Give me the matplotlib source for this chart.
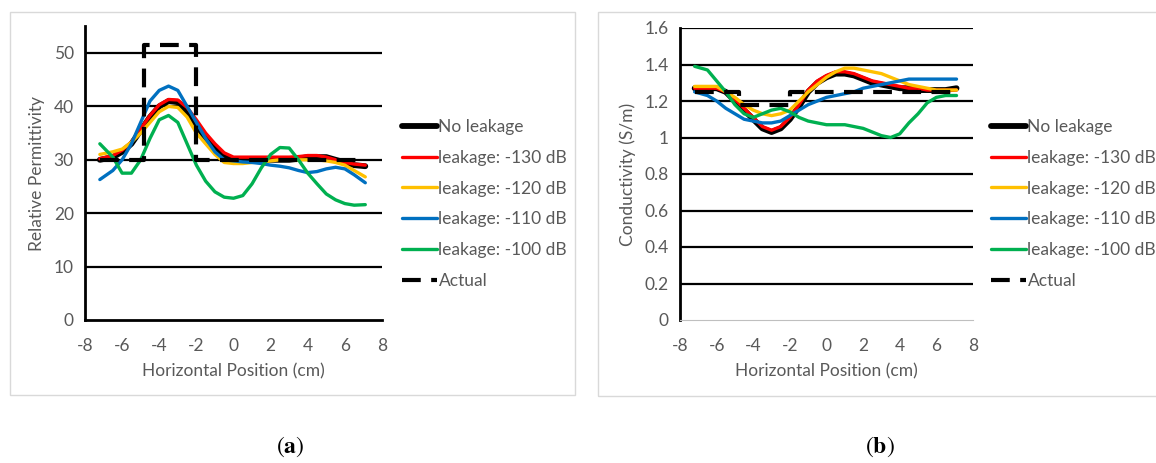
import numpy as np
import matplotlib
matplotlib.use("Agg")
import matplotlib.pyplot as plt
from matplotlib.patches import Rectangle

plt.rcParams['font.family'] = ['Lato', 'DejaVu Sans']
plt.rcParams['mathtext.fontset'] = 'stix'
plt.rcParams['axes.unicode_minus'] = False

# ---- panel (a): relative permittivity ----
xa = [-7.2, -6.5, -6, -5.5, -5, -4.5, -4, -3.5, -3, -2.5, -2, -1.5, -1, -0.5, 0, 0.5, 1, 1.5, 2, 2.5, 3, 3.5, 4, 4.5, 5, 5.5, 6, 6.5, 7.1]
perm_none = [30, 30.5, 31.5, 33, 35.5, 38, 40, 41, 40.8, 39, 36.5, 34, 32, 30.5, 30, 30, 30, 30, 30, 30, 30, 30.2, 30.5, 30.5, 30.5, 30, 29.5, 29, 28.8]
perm_130 = [30.2, 30.8, 31.8, 33.3, 35.8, 38.3, 40.3, 41.3, 41.2, 39.8, 37.5, 35, 33, 31.3, 30.5, 30.5, 30.5, 30.5, 30.5, 30.5, 30.5, 30.6, 30.8, 30.8, 30.5, 30, 29.5, 29.2, 29]
perm_120 = [31, 31.5, 32, 33.3, 35, 37, 39, 40, 39.8, 38, 35, 33, 31, 29.5, 29.3, 29.3, 29.5, 29.6, 29.8, 30, 30, 30, 30, 30, 29.8, 29.5, 29, 28, 26.8]
perm_110 = [26.3, 28, 30, 33, 37, 41, 43, 43.8, 43, 40, 37, 34, 31.5, 30, 29.8, 29.6, 29.5, 29.3, 29, 28.8, 28.5, 28, 27.6, 27.8, 28.3, 28.6, 28.3, 27.2, 25.7]
perm_100 = [33, 30.5, 27.5, 27.5, 30, 34, 37.5, 38.3, 37, 33, 29, 26, 24, 23, 22.8, 23.3, 25.5, 28.5, 31, 32.3, 32.2, 30, 27.5, 25.5, 23.6, 22.5, 21.8, 21.5, 21.6]
act_xa = [-7.2, -4.8, -4.8, -2.0, -2.0, 7.1]
act_ya = [30, 30, 51.5, 51.5, 30, 30]

# ---- panel (b): conductivity ----
xb = [-7.2, -6.5, -6, -5.5, -5, -4.5, -4, -3.5, -3, -2.5, -2, -1.5, -1, -0.5, 0, 0.5, 1, 1.5, 2, 2.5, 3, 3.5, 4, 4.5, 5, 5.5, 6, 6.5, 7.1]
cond_none = [1.27, 1.27, 1.27, 1.25, 1.2, 1.15, 1.1, 1.05, 1.03, 1.05, 1.1, 1.17, 1.25, 1.3, 1.33, 1.35, 1.35, 1.34, 1.32, 1.3, 1.29, 1.28, 1.27, 1.27, 1.26, 1.26, 1.26, 1.26, 1.27]
cond_130 = [1.27, 1.27, 1.27, 1.25, 1.21, 1.16, 1.11, 1.06, 1.04, 1.06, 1.11, 1.18, 1.26, 1.31, 1.34, 1.36, 1.36, 1.35, 1.33, 1.31, 1.3, 1.29, 1.28, 1.27, 1.27, 1.26, 1.26, 1.26, 1.26]
cond_120 = [1.28, 1.28, 1.28, 1.25, 1.22, 1.18, 1.15, 1.13, 1.12, 1.13, 1.15, 1.2, 1.25, 1.29, 1.33, 1.36, 1.38, 1.38, 1.37, 1.36, 1.35, 1.33, 1.31, 1.29, 1.28, 1.27, 1.26, 1.26, 1.26]
cond_110 = [1.25, 1.23, 1.2, 1.16, 1.13, 1.1, 1.09, 1.08, 1.08, 1.09, 1.12, 1.15, 1.18, 1.2, 1.22, 1.23, 1.24, 1.25, 1.27, 1.28, 1.29, 1.3, 1.31, 1.32, 1.32, 1.32, 1.32, 1.32, 1.32]
cond_100 = [1.39, 1.37, 1.31, 1.25, 1.18, 1.13, 1.11, 1.13, 1.15, 1.16, 1.14, 1.11, 1.09, 1.08, 1.07, 1.07, 1.07, 1.06, 1.05, 1.03, 1.01, 1.0, 1.02, 1.08, 1.13, 1.19, 1.22, 1.23, 1.23]
act_xb = [-7.2, -4.8, -4.8, -2.0, -2.0, 7.1]
act_yb = [1.25, 1.25, 1.18, 1.18, 1.25, 1.25]

labels = ['No leakage', 'leakage: -130 dB', 'leakage: -120 dB', 'leakage: -110 dB', 'leakage: -100 dB', 'Actual']
colors = ['black', '#FF0000', '#FFC000', '#0070C0', '#00B050']
txt_color = '#595959'

fig = plt.figure(figsize=(11.56, 4.63), dpi=100)

# light frames around each panel
fig.patches.append(Rectangle((10/1156, 1-395/463), 565/1156, 383/463, transform=fig.transFigure,
                             fill=False, edgecolor='#d9d9d9', lw=1))
fig.patches.append(Rectangle((598/1156, 1-396/463), 560/1156, 384/463, transform=fig.transFigure,
                             fill=False, edgecolor='#d9d9d9', lw=1))

axa = fig.add_axes([85/1156, 1-320/463, 297/1156, 293.7/463])
axb = fig.add_axes([680/1156, 1-320/463, 293/1156, 292/463])


def draw(ax, x, series, act_x, act_y):
    lines = []
    l, = ax.plot(x, series[0], color='black', lw=4.2, solid_capstyle='round', zorder=3)
    lines.append(l)
    for s, c in zip(series[1:], colors[1:]):
        l, = ax.plot(x, s, color=c, lw=2.4, solid_capstyle='round', zorder=4)
        lines.append(l)
    l, = ax.plot(act_x, act_y, color='black', lw=3, dashes=(4.5, 2.5), zorder=5)
    lines.append(l)
    return lines


la = draw(axa, xa, [perm_none, perm_130, perm_120, perm_110, perm_100], act_xa, act_ya)
lb = draw(axb, xb, [cond_none, cond_130, cond_120, cond_110, cond_100], act_xb, act_yb)

axa.set_xlim(-8, 8)
axa.set_ylim(0, 55)
axa.set_yticks([0, 10, 20, 30, 40, 50])
axa.set_ylabel('Relative Permittivity', fontsize=12.5, color=txt_color, labelpad=6)
for v in [10, 20, 30, 40, 50]:
    axa.axhline(v, color='black', lw=1.6, zorder=1)

axb.set_xlim(-8, 8)
axb.set_ylim(0, 1.6)
axb.set_yticks([0, 0.2, 0.4, 0.6, 0.8, 1.0, 1.2, 1.4, 1.6])
axb.set_yticklabels(['0', '0.2', '0.4', '0.6', '0.8', '1', '1.2', '1.4', '1.6'])
axb.set_ylabel('Conductivity (S/m)', fontsize=12.5, color=txt_color, labelpad=6)
for v in [0.2, 0.4, 0.6, 0.8, 1.0, 1.2, 1.4, 1.6]:
    axb.axhline(v, color='black', lw=1.6, zorder=1)

for ax in (axa, axb):
    ax.set_xticks(range(-8, 9, 2))
    ax.set_xlabel('Horizontal Position (cm)', fontsize=12.5, color=txt_color, labelpad=7)
    ax.tick_params(axis='x', length=0, labelsize=12.5, labelcolor=txt_color, pad=13)
    ax.tick_params(axis='y', length=0, labelsize=12.5, labelcolor=txt_color, pad=8)
    ax.spines['top'].set_visible(False)
    ax.spines['right'].set_visible(False)
    ax.spines['left'].set_linewidth(2)
    ax.spines['bottom'].set_linewidth(2)

axb.spines['bottom'].set_linewidth(0.8)
axb.spines['bottom'].set_color('#bfbfbf')

for lines, xpos in ((la, 402/1156), (lb, 991/1156)):
    fig.legend(lines, labels, loc='upper left', bbox_to_anchor=(xpos, 1-119/463),
               frameon=False, fontsize=12.5, handlelength=2.0, handletextpad=0.1,
               labelspacing=0.85, labelcolor=txt_color, borderaxespad=0, borderpad=0)

fig.text(290/1156, 1-447/463, r'$(\mathbf{a})$', ha='center', va='center', fontsize=17)
fig.text(880/1156, 1-447/463, r'$(\mathbf{b})$', ha='center', va='center', fontsize=17)

fig.savefig('out.png', dpi=100)
